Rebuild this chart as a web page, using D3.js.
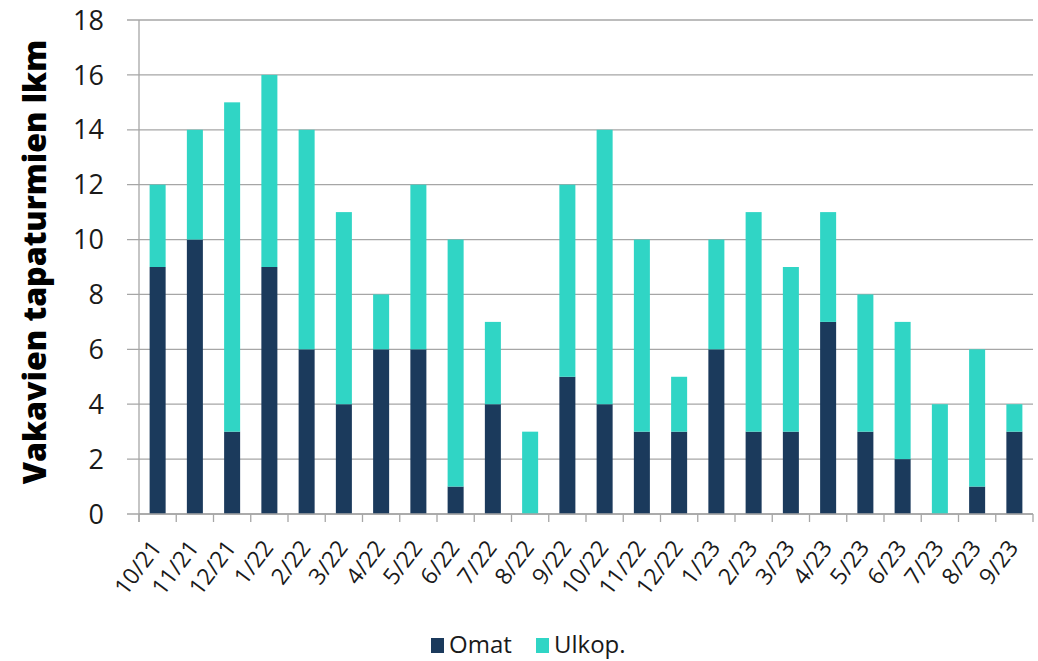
<!DOCTYPE html>
<html><head><meta charset="utf-8">
<script src="https://cdn.jsdelivr.net/npm/d3@7"></script>
<style>body{margin:0;background:#fff;} svg{display:block;}</style>
</head><body>
<svg id="c" width="1038" height="661"></svg>
<script>
const categories = ["10/21","11/21","12/21","1/22","2/22","3/22","4/22","5/22","6/22","7/22","8/22","9/22","10/22","11/22","12/22","1/23","2/23","3/23","4/23","5/23","6/23","7/23","8/23","9/23"];
const omat  = [9,10,3,9,6,4,6,6,1,4,0,5,4,3,3,6,3,3,7,3,2,0,1,3];
const ulkop = [3,4,12,7,8,7,2,6,9,3,3,7,10,7,2,4,8,6,4,5,5,4,5,1];
const seriesNames = ["Omat","Ulkop."];
const colors = ["#1b3a5c","#30d5c5"];
const yTicks = [0,2,4,6,8,10,12,14,16,18];

(function(){
const svg = d3.select("#c");
const pL = 139, pR = 1033, pT = 20, pB = 514;
const x = d3.scaleBand().domain(categories).range([pL,pR]).paddingInner(0.57).paddingOuter(0.285);
const y = d3.scaleLinear().domain([0,18]).range([pB,pT]);

const rows = categories.map((c,i)=>({cat:c, Omat:omat[i], "Ulkop.":ulkop[i]}));
const stacked = d3.stack().keys(seriesNames)(rows);

svg.append("g").selectAll("line").data(yTicks).join("line")
  .attr("x1",pL-12).attr("x2",pR).attr("y1",d=>y(d)).attr("y2",d=>y(d))
  .attr("stroke","#a6a6a6").attr("stroke-width",1.3);

svg.append("g").selectAll("g").data(stacked).join("g")
  .attr("fill",(d,i)=>colors[i])
  .selectAll("rect").data(d=>d).join("rect")
  .attr("x",d=>x(d.data.cat)).attr("width",x.bandwidth())
  .attr("y",d=>y(d[1])).attr("height",d=>y(d[0])-y(d[1]));

svg.append("line").attr("x1",pL).attr("x2",pL).attr("y1",pT).attr("y2",pB+8)
  .attr("stroke","#a6a6a6").attr("stroke-width",1.3);
svg.append("line").attr("x1",pL).attr("x2",pR).attr("y1",pB).attr("y2",pB)
  .attr("stroke","#a6a6a6").attr("stroke-width",1.3);
const step = x.step();
const bounds = d3.range(categories.length+1).map(i=>pL+i*step);
svg.append("g").selectAll("line").data(bounds).join("line")
  .attr("x1",d=>d).attr("x2",d=>d).attr("y1",pB).attr("y2",pB+8)
  .attr("stroke","#a6a6a6").attr("stroke-width",1.3);

svg.append("g").selectAll("text").data(yTicks).join("text")
  .attr("x",104).attr("y",d=>y(d)).attr("dy","0.36em")
  .attr("text-anchor","end").attr("font-family","Open Sans, sans-serif")
  .attr("font-size",27).attr("fill","#1a1a1a").text(d=>d);

svg.append("g").selectAll("text").data(categories).join("text")
  .attr("transform",d=>`translate(${x(d)+x.bandwidth()/2+5},${pB+34}) rotate(-53)`)
  .attr("text-anchor","end")
  .attr("font-family","Open Sans, sans-serif").attr("font-size",23).attr("fill","#1a1a1a")
  .text(d=>d);

svg.append("text").attr("transform",`translate(46,262) rotate(-90)`)
  .attr("text-anchor","middle").attr("font-family","Open Sans, sans-serif")
  .attr("font-weight","800").attr("font-size",32).attr("fill","#000")
  .text("Vakavien tapaturmien lkm");

const lg = svg.append("g").attr("font-family","Open Sans, sans-serif").attr("font-size",24).attr("fill","#1a1a1a");
const legX = [431,536];
seriesNames.forEach((n,i)=>{
  lg.append("rect").attr("x",legX[i]).attr("y",638).attr("width",13).attr("height",15).attr("fill",colors[i]);
  lg.append("text").attr("x",legX[i]+18).attr("y",653).text(n);
});
})();
</script>
</body></html>
